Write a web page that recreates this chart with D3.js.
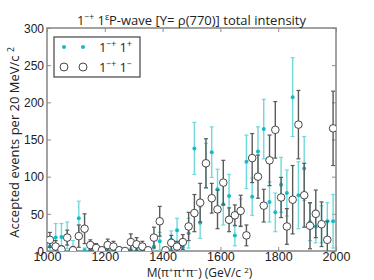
<!DOCTYPE html>
<meta charset="utf-8">
<head>
<style>
body { margin: 0; background: #fff; }
svg { display: block; font-family: "Open Sans", "DejaVu Sans", sans-serif; }
.tick text { fill: #222; font-size: 12px; }
</style>
<script src="https://d3js.org/d3.v7.min.js"></script>
</head>
<body>
<svg id="plot" width="374" height="280"></svg>
<script>

// bin centres, MeV
var mass = [1010,1030,1050,1070,1090,1110,1130,1150,1170,1190,
            1210,1230,1250,1270,1290,1310,1330,1350,1370,1390,
            1410,1430,1450,1470,1490,1510,1530,1550,1570,1590,
            1610,1630,1650,1670,1690,1710,1730,1750,1770,1790,
            1810,1830,1850,1870,1890,1910,1930,1950,1970,1990];

// 1-+ 1+ (cyan dots)
var plusVals = [6,18,19,21,2,44,1,1,0,0,
                0,1,0,0,1,1,1,0,6,13,
                0,15,28,5,24,138,38,115,133,83,
                63,74,21,52,120,73,134,164,66,52,
                89,78,207,75,111,39,33,36,40,40];
var plusErrs = [8,19,18,18,12,23,3,3,2,2,
                2,3,2,2,3,3,3,2,8,12,
                2,12,16,8,20,35,21,30,34,27,
                28,29,14,18,36,25,33,40,27,26,
                37,31,53,45,43,25,22,25,25,36];

// 1-+ 1- (open circles)
var minusVals = [15,6,2,18,1,20,30,8,4,1,
                 8,6,1,0,12,9,6,1,18,40,
                 1,11,6,12,33,51,65,118,71,56,
                 92,42,48,54,21,125,100,61,122,163,
                 72,33,69,170,75,34,50,36,15,165];
var minusErrs = [10,8,5,10,5,15,20,7,6,4,
                 8,7,4,3,11,9,7,4,14,20,
                 4,10,7,10,19,25,26,33,20,26,
                 30,16,14,21,14,33,29,22,34,38,
                 27,24,46,46,43,31,32,30,25,50];

var xTicks = [1000,1200,1400,1600,1800,2000];
var yTicks = [0,50,100,150,200,250,300];

var svg = d3.select("svg"),
    margin = {top: 28, right: 38, bottom: 29, left: 47},
    width = svg.attr("width") - margin.left - margin.right,
    height = svg.attr("height") - margin.top - margin.bottom;

var x = d3.scaleLinear().domain([1000, 2000]).range([0, width]);
var y = d3.scaleLinear().domain([0, 300]).range([height, 0]);

var g = svg.append("g")
    .attr("transform", "translate(" + margin.left + "," + margin.top + ")");

svg.append("defs").append("clipPath").attr("id", "clip")
  .append("rect").attr("width", width).attr("height", height);

var frameCol = "#8c8c8c";

// axes with inward ticks
var xAx = g.append("g").attr("transform", "translate(0," + height + ")")
    .call(d3.axisBottom(x).tickValues(xTicks).tickSize(-4).tickPadding(2).tickFormat(d3.format("d")));
var yAx = g.append("g")
    .call(d3.axisLeft(y).tickValues(yTicks).tickSize(-4).tickPadding(3));
g.append("g").attr("transform", "translate(" + width + ",0)")
    .call(d3.axisRight(y).tickValues(yTicks).tickSize(-4).tickFormat(""));
g.append("g")
    .call(d3.axisTop(x).tickValues(xTicks).tickSize(-4).tickFormat(""));

g.selectAll(".domain").remove();
g.selectAll(".tick line").attr("stroke", frameCol);
xAx.selectAll("text").attr("dy", "0.66em").style("font-size", "12.5px");
yAx.selectAll("text").attr("dy", "0.35em");

g.append("rect")
    .attr("width", width).attr("height", height)
    .attr("fill", "none").attr("stroke", frameCol).attr("stroke-width", 1.6);

function drawSeries(vals, errs, barCol, cls) {
  var s = g.append("g").attr("clip-path", "url(#clip)");
  var pts = s.selectAll("." + cls).data(mass).enter().append("g").attr("class", cls);
  pts.append("line")
      .attr("x1", function(d){ return x(d); }).attr("x2", function(d){ return x(d); })
      .attr("y1", function(d, i){ return y(vals[i] - errs[i]); })
      .attr("y2", function(d, i){ return y(vals[i] + errs[i]); })
      .attr("stroke", barCol).attr("stroke-width", 1.4);
  [-1, 1].forEach(function(sgn){
    pts.append("line")
        .attr("x1", function(d){ return x(d) - 2; }).attr("x2", function(d){ return x(d) + 2; })
        .attr("y1", function(d, i){ return y(vals[i] + sgn * errs[i]); })
        .attr("y2", function(d, i){ return y(vals[i] + sgn * errs[i]); })
        .attr("stroke", barCol).attr("stroke-width", 1.2);
  });
  return pts;
}

var cyan = "#14bcc4", cyanBar = "#6fd9dc", grayBar = "#5a5a5a";

drawSeries(plusVals, plusErrs, cyanBar, "pplus")
  .append("circle")
    .attr("cx", function(d){ return x(d); })
    .attr("cy", function(d, i){ return y(plusVals[i]); })
    .attr("r", 2).attr("fill", cyan);

drawSeries(minusVals, minusErrs, grayBar, "pminus")
  .append("circle")
    .attr("cx", function(d){ return x(d); })
    .attr("cy", function(d, i){ return y(minusVals[i]); })
    .attr("r", 3.8).attr("fill", "#fff").attr("stroke", "#333").attr("stroke-width", 0.9);

// legend
var leg = g.append("g").attr("transform", "translate(7,9)");
leg.append("rect").attr("width", 86).attr("height", 40)
    .attr("fill", "#fff").attr("stroke", "#444").attr("stroke-width", 1.2);
[10, 29].forEach(function(cx){
  leg.append("circle").attr("cx", cx).attr("cy", 10).attr("r", 2).attr("fill", cyan);
  leg.append("circle").attr("cx", cx).attr("cy", 30).attr("r", 4)
      .attr("fill", "#fff").attr("stroke", "#333").attr("stroke-width", 0.9);
});
function legText(yy, last) {
  var t = leg.append("text").attr("x", 45).attr("y", yy).attr("font-size", 13).attr("fill", "#222");
  t.append("tspan").text("1");
  t.append("tspan").attr("dy", -5).attr("font-size", 8.5).text("\u2212+");
  t.append("tspan").attr("dy", 5).text(" 1");
  t.append("tspan").attr("dy", -5).attr("font-size", 8.5).text(last);
}
legText(14.5, "+");
legText(34.5, "\u2212");

// title
var tt = svg.append("text").attr("x", margin.left + width / 2).attr("y", 24.5)
    .attr("text-anchor", "middle").attr("font-size", 13).attr("fill", "#222");
tt.append("tspan").text("1");
tt.append("tspan").attr("dy", -5).attr("font-size", 8.5).text("\u2212+");
tt.append("tspan").attr("dy", 5).text(" 1");
tt.append("tspan").attr("dy", -5).attr("font-size", 8.5).text("\u03b5");
tt.append("tspan").attr("dy", 5).text("P-wave [Y=  \u03c1(770)] total intensity");

// x title
var xt = svg.append("text").attr("x", margin.left + width / 2 + 8).attr("y", 277)
    .attr("text-anchor", "middle").attr("font-size", 12).attr("fill", "#222");
xt.append("tspan").text("M(\u03c0");
xt.append("tspan").attr("dy", -4).attr("font-size", 8).text("+");
xt.append("tspan").attr("dy", 4).text("\u03c0");
xt.append("tspan").attr("dy", -4).attr("font-size", 8).text("+");
xt.append("tspan").attr("dy", 4).text("\u03c0");
xt.append("tspan").attr("dy", -4).attr("font-size", 8).text("\u2212");
xt.append("tspan").attr("dy", 4).text(") (GeV/c  ");
xt.append("tspan").attr("dy", -4).attr("font-size", 8).text("2");
xt.append("tspan").attr("dy", 4).text(")");

// y title
var yt = svg.append("text")
    .attr("transform", "translate(19," + (margin.top + height / 2 + 3) + ") rotate(-90)")
    .attr("text-anchor", "middle").attr("font-size", 13).attr("fill", "#222");
yt.append("tspan").text("Accepted events per 20 MeV/c   ");
yt.append("tspan").attr("dy", -5).attr("font-size", 8.5).text("2");

</script>
</body>
